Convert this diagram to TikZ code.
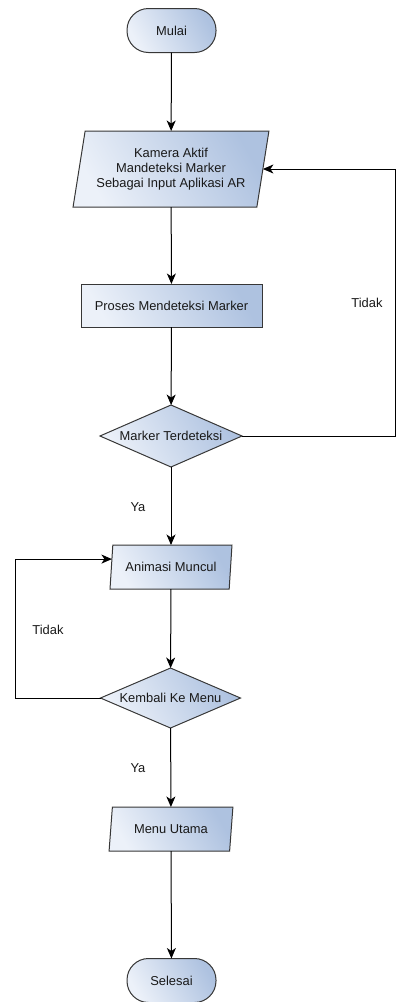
\documentclass[tikz,border=0pt]{standalone}
\usepackage{fontspec}
\setmainfont{Liberation Sans}
\usetikzlibrary{shapes.geometric,arrows.meta,calc}
\definecolor{fillA}{RGB}{236,241,249}
\definecolor{fillB}{RGB}{174,194,224}
\definecolor{edgeC}{RGB}{55,55,55}
\definecolor{txtC}{RGB}{25,25,25}
\tikzset{
  box/.style={draw=edgeC, line width=1pt, left color=fillA, right color=fillB, shading angle=120,
    inner sep=0pt, outer sep=0pt, text=txtC, font=\fontsize{12.9}{15}\selectfont, align=center},
  terminal/.style={box, rectangle, rounded corners=21.5pt, minimum width=89pt, minimum height=44pt},
  procbox/.style={box, rectangle, minimum width=181pt, minimum height=43pt},
  decision/.style={box, diamond, minimum width=142pt, minimum height=62pt, aspect=2.3},
  iobox/.style={box, trapezium, trapezium stretches=true},
  arr/.style={draw=black, line width=1pt, -{Stealth[length=10.5pt,width=9pt,inset=3pt]}},
  lbl/.style={text=txtC, font=\fontsize{12.9}{15}\selectfont, inner sep=0pt}
}
\begin{document}
\begin{tikzpicture}[x=1pt,y=-1pt]
\useasboundingbox (0,0) rectangle (396,1002);
\node[terminal] (mulai) at (171.5,30.5) {Mulai};
\node[iobox, trapezium left angle=76, trapezium right angle=104, minimum width=196pt, minimum height=76pt] (kam) at (171,169)
  {Kamera Aktif\\Mandeteksi Marker\\Sebagai Input Aplikasi AR};
\node[procbox] (proses) at (171.5,305.5) {Proses Mendeteksi Marker};
\node[decision] (d1) at (171,436) {Marker Terdeteksi};
\node[iobox, trapezium left angle=77, trapezium right angle=103, minimum width=123pt, minimum height=44pt] (anim) at (171,567) {Animasi Muncul};
\node[decision, minimum width=140pt, minimum height=60pt] (d2) at (170.5,698) {Kembali Ke Menu};
\node[iobox, trapezium left angle=77, trapezium right angle=103, minimum width=124pt, minimum height=44pt] (menu) at (171,829) {Menu Utama};
\node[terminal] (selesai) at (171.5,980.5) {Selesai};

\coordinate (rx) at (395.5,0);
\coordinate (lx) at (15,0);
\coordinate (ain) at ($(anim.bottom left corner)!0.68!(anim.top left corner)$);

\draw[arr] (mulai) -- (kam);
\draw[arr] (kam) -- (proses);
\draw[arr] (proses) -- (d1);
\draw[arr] (d1) -- (anim);
\draw[arr] (anim) -- (d2);
\draw[arr] (d2) -- (menu);
\draw[arr] (menu) -- (selesai);
\draw[arr] (d1.east) -- (d1.east -| rx) |- (kam.right side);
\draw[arr] (d2.west) -- (d2.west -| lx) |- (ain);

\node[lbl] (t1) at (367,303) {Tidak};
\node[lbl] (t2) at (48,630) {Tidak};
\node[lbl] (y1) at (138,507) {Ya};
\node[lbl] (y2) at (138,768) {Ya};
\end{tikzpicture}
\end{document}
